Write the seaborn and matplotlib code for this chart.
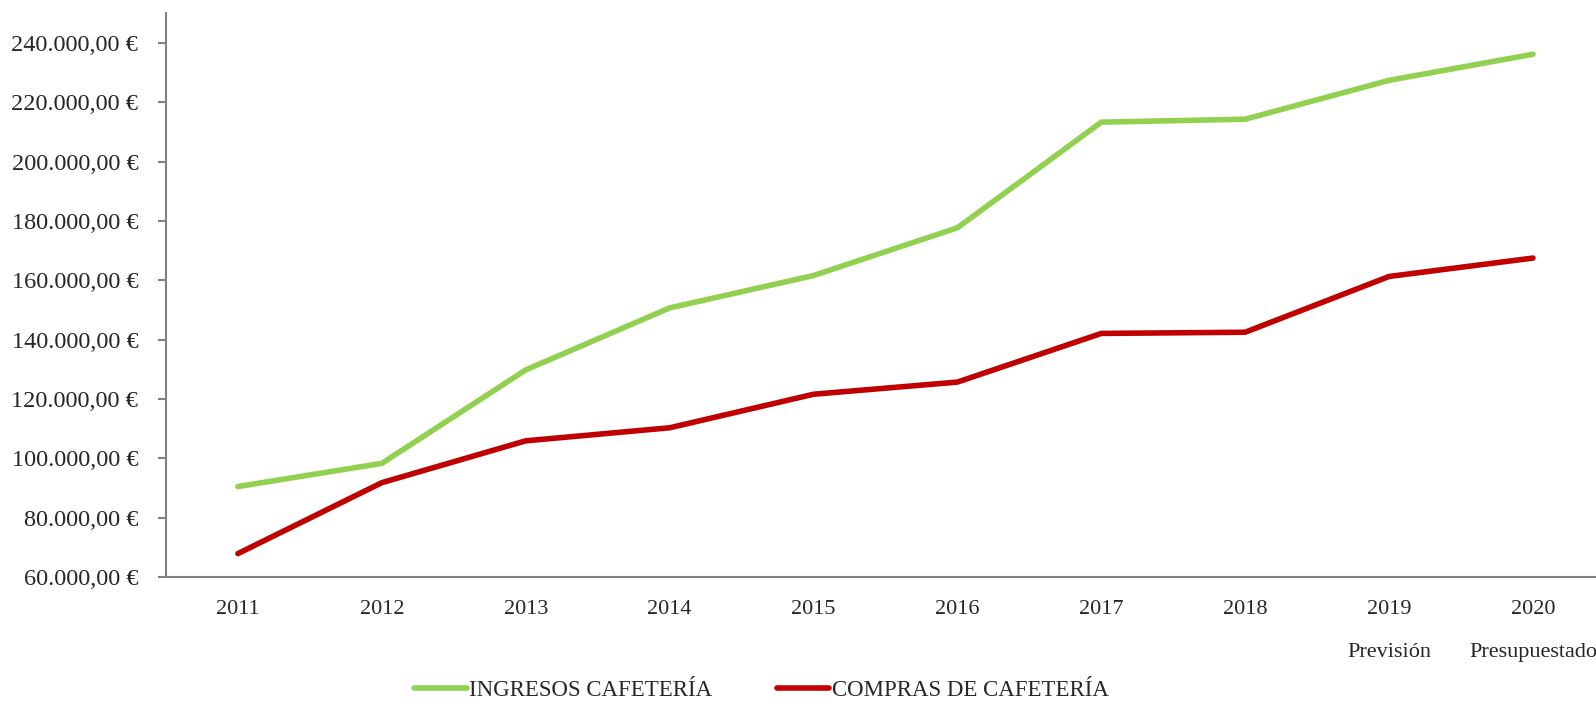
import matplotlib
matplotlib.use('Agg')
import pandas as pd
import matplotlib.pyplot as plt
import seaborn as sns

anos = ['2011', '2012', '2013', '2014', '2015', '2016', '2017', '2018', '2019', '2020']
etiquetas = ['2011', '2012', '2013', '2014', '2015', '2016', '2017', '2018',
             '2019\nPrevisión', '2020\nPresupuestado']
ingresos = [90500, 98300, 129800, 150700, 161600, 177700, 213300, 214300, 227400, 236200]
compras = [67900, 91800, 105900, 110300, 121600, 125700, 142100, 142500, 161300, 167500]

df = pd.DataFrame({
    'Año': anos * 2,
    'Valor': ingresos + compras,
    'Serie': ['INGRESOS CAFETERÍA'] * len(anos) + ['COMPRAS DE CAFETERÍA'] * len(anos),
})

sns.set_style('white')
plt.rcParams['font.family'] = ['Liberation Serif', 'DejaVu Serif']

fig = plt.figure(figsize=(15.96, 7.10), dpi=100)
ax = fig.add_axes([0.104, 0.1873, 1.0056 - 0.104, 0.794])

sns.lineplot(data=df, x='Año', y='Valor', hue='Serie',
             palette=['#92D050', '#C00000'], linewidth=4.0, ax=ax, legend=True)

ax.set_xlim(-0.5, 9.5)
ax.set_ylim(60000, 250000)
ax.set_yticks(range(60000, 240001, 20000))
ax.set_yticklabels([f'{v:,.2f} €'.replace(',', 'X').replace('.', ',').replace('X', '.')
                    for v in range(60000, 240001, 20000)], fontsize=17.5)
ax.set_xticks(range(len(anos)))
ax.set_xticklabels(etiquetas, fontsize=16, linespacing=2.7)
ax.set_xlabel('')
ax.set_ylabel('')

for s in ['top', 'right']:
    ax.spines[s].set_visible(False)
for s in ['left', 'bottom']:
    ax.spines[s].set_color('#808080')
    ax.spines[s].set_linewidth(1.5)
ax.tick_params(axis='y', which='major', left=True, length=6, width=1.5, color='#808080', pad=14)
ax.tick_params(axis='x', bottom=False, pad=13)

handles, labels = ax.get_legend_handles_labels()
ax.legend(handles, labels, loc='center', bbox_to_anchor=(0.477, 0.027),
          bbox_transform=fig.transFigure, ncol=2, frameon=False, fontsize=16.5,
          handlelength=2.3, handletextpad=0.1, columnspacing=2.8)

fig.savefig('out.png', dpi=100)
